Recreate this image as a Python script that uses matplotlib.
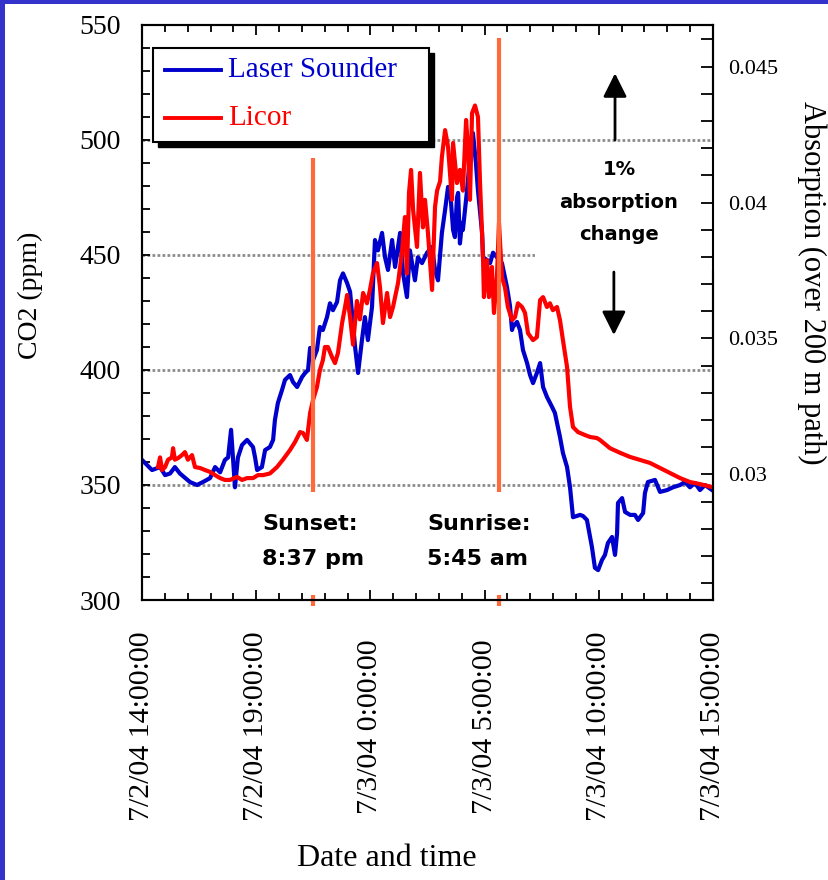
import matplotlib
matplotlib.use("Agg")
import matplotlib.pyplot as plt
from matplotlib.patches import Rectangle
from matplotlib.lines import Line2D
from matplotlib.ticker import MultipleLocator, FixedLocator

# ---- data: hours elapsed since 7/2/04 14:00 ----
laser_hours = [0.00, 0.44, 0.79, 1.01, 1.23, 1.44, 1.66, 2.10, 2.41, 2.67,
               2.98, 3.20, 3.42, 3.63, 3.77, 3.90, 3.98, 4.07, 4.20, 4.38,
               4.60, 4.86, 4.95, 5.04, 5.25, 5.39, 5.60, 5.74, 5.82, 5.95,
               6.13, 6.26, 6.48, 6.61, 6.79, 7.01, 7.14, 7.27, 7.36, 7.49,
               7.66, 7.79, 7.92, 8.10, 8.23, 8.36, 8.54, 8.67, 8.80, 8.98,
               9.11, 9.33, 9.46, 9.63, 9.76, 9.89, 10.07, 10.20, 10.33, 10.51,
               10.64, 10.77, 10.95, 11.08, 11.30, 11.43, 11.60, 11.73, 11.95, 12.08,
               12.26, 12.48, 12.70, 12.83, 12.96, 13.13, 13.27, 13.40, 13.49, 13.62,
               13.70, 13.79, 13.84, 13.92, 14.01, 14.05, 14.23, 14.36, 14.49, 14.62,
               14.71, 14.89, 14.93, 15.11, 15.24, 15.37, 15.54, 15.76, 15.98, 16.11,
               16.20, 16.24, 16.42, 16.55, 16.68, 16.86, 16.99, 17.12, 17.29, 17.43,
               17.56, 17.73, 17.95, 18.08, 18.30, 18.43, 18.61, 18.74, 18.87, 19.18,
               19.31, 19.48, 19.70, 19.83, 19.97, 20.14, 20.27, 20.40, 20.58, 20.71,
               20.80, 20.84, 21.02, 21.15, 21.37, 21.58, 21.72, 21.94, 22.02, 22.15,
               22.46, 22.68, 22.99, 23.25, 23.56, 23.77, 23.99, 24.21, 24.43, 24.65,
               24.96]
laser_co2 = [360.9, 356.5, 357.8, 354.3, 355.0, 357.8, 355.0, 351.3, 350.0, 351.3,
             353.0, 357.8, 355.5, 360.9, 362.0, 374.0, 362.0, 349.0, 362.0, 367.4,
             369.6, 366.5, 362.0, 356.5, 357.8, 365.2, 366.5, 369.6, 378.3, 385.7,
             391.3, 395.7, 397.8, 394.8, 392.6, 397.0, 398.7, 400.0, 409.6, 404.3,
             408.7, 418.7, 417.4, 423.0, 429.0, 426.0, 429.6, 439.0, 442.0, 437.8,
             434.0, 410.0, 398.7, 413.0, 423.0, 413.0, 427.4, 456.5, 452.0, 459.6,
             449.0, 443.5, 456.5, 444.8, 459.6, 442.0, 431.7, 452.0, 439.0, 449.0,
             446.5, 451.0, 453.5, 443.5, 439.0, 459.6, 469.6, 479.6, 478.0, 460.9,
             457.8, 475.0, 477.0, 455.0, 464.0, 460.9, 478.0, 492.6, 503.0, 490.0,
             478.0, 459.6, 449.0, 447.8, 446.5, 451.0, 449.0, 446.5, 436.0, 428.0,
             417.4, 418.7, 420.9, 417.4, 408.7, 403.0, 397.8, 394.3, 398.7, 403.0,
             392.6, 388.3, 384.0, 381.3, 370.9, 363.9, 357.8, 349.0, 336.0, 337.0,
             336.5, 334.8, 323.0, 314.0, 313.0, 317.4, 319.6, 324.8, 327.4, 319.6,
             329.0, 342.2, 344.3, 338.3, 337.0, 337.0, 334.8, 337.8, 346.5, 351.3,
             352.2, 347.0, 347.8, 349.0, 350.0, 351.3, 349.0, 350.9, 347.8, 350.0,
             347.8]

licor_hours = [0.70, 0.79, 0.88, 1.01, 1.14, 1.31, 1.36, 1.44, 1.58, 1.75,
               1.88, 2.01, 2.19, 2.32, 2.54, 2.76, 2.98, 3.20, 3.42, 3.63,
               3.85, 4.16, 4.38, 4.60, 4.86, 5.08, 5.30, 5.60, 5.91, 6.17,
               6.48, 6.70, 6.92, 7.05, 7.22, 7.36, 7.49, 7.66, 7.79, 7.92,
               8.01, 8.14, 8.32, 8.45, 8.58, 8.76, 8.89, 8.98, 9.11, 9.24,
               9.41, 9.54, 9.68, 9.85, 9.98, 10.11, 10.29, 10.42, 10.55, 10.73,
               10.86, 10.99, 11.21, 11.38, 11.51, 11.60, 11.69, 11.78, 11.87, 12.04,
               12.17, 12.30, 12.39, 12.52, 12.70, 12.83, 12.92, 13.05, 13.13, 13.27,
               13.40, 13.57, 13.62, 13.79, 13.92, 14.05, 14.19, 14.27, 14.36, 14.45,
               14.58, 14.71, 14.80, 14.93, 14.97, 15.11, 15.19, 15.32, 15.41, 15.54,
               15.63, 15.76, 15.89, 16.02, 16.20, 16.33, 16.46, 16.64, 16.77, 16.90,
               17.12, 17.29, 17.43, 17.56, 17.73, 17.86, 17.99, 18.17, 18.30, 18.43,
               18.61, 18.74, 18.87, 19.09, 19.40, 19.61, 19.92, 20.05, 20.49, 20.93,
               21.37, 21.80, 22.24, 22.68, 23.12, 23.56, 23.99, 24.43, 24.96]
licor_co2 = [357.8, 362.0, 356.5, 357.8, 361.0, 362.0, 366.0, 361.0, 361.7, 363.0,
             364.3, 361.0, 363.0, 357.8, 357.4, 356.5, 355.7, 354.3, 353.0, 352.2,
             352.2, 353.5, 352.2, 353.0, 353.0, 354.3, 354.3, 355.0, 357.8, 361.0,
             365.2, 368.7, 373.0, 372.6, 369.6, 381.3, 387.0, 392.6, 400.0, 404.3,
             410.0, 410.0, 405.6, 403.0, 407.4, 420.4, 427.4, 432.6, 423.0, 411.0,
             430.0, 422.0, 433.5, 429.0, 434.8, 442.0, 446.5, 436.0, 420.4, 433.5,
             423.0, 427.4, 437.8, 451.0, 466.5, 442.0, 477.0, 487.0, 469.6, 453.5,
             485.7, 462.0, 474.0, 459.6, 434.8, 471.0, 478.0, 482.0, 492.6, 504.3,
             497.0, 474.0, 498.7, 481.3, 487.0, 478.0, 508.7, 497.0, 474.0, 511.7,
             515.0, 510.0, 481.3, 449.0, 431.7, 447.8, 431.7, 444.8, 424.8, 440.4,
             464.0, 440.4, 436.0, 427.4, 421.7, 423.0, 429.0, 427.4, 424.8, 416.0,
             413.0, 414.3, 430.4, 431.7, 427.4, 429.0, 426.0, 427.4, 421.7, 413.0,
             401.3, 384.0, 375.2, 373.0, 371.7, 370.9, 370.4, 369.6, 366.0, 364.0,
             362.2, 360.9, 359.6, 357.4, 355.2, 353.0, 351.3, 350.4, 349.1]

series_labels = ["Laser Sounder", "Licor"]

tick_hours = [0, 5, 10, 15, 20, 25]
tick_labels = ["7/2/04 14:00:00", "7/2/04 19:00:00", "7/3/04 0:00:00",
               "7/3/04 5:00:00", "7/3/04 10:00:00", "7/3/04 15:00:00"]

co2_ticks = [300, 350, 400, 450, 500, 550]
grid_levels = [350, 400, 450, 500]
absorption_ticks = [0.03, 0.035, 0.04, 0.045]
absorption_labels = ["0.03", "0.035", "0.04", "0.045"]
absorption_per_ppm = 0.03 / 354.6   # 200 m path

sunset_hour = 7.49
sunrise_hour = 15.63

# ---- styling ----
SERIF = "Liberation Serif"
BOLD = "DejaVu Sans"
BLUE = "#0000cc"
RED = "#ff0000"
ORANGE = "#ff6a3d"
FRAME = "#3333cc"

W, H = 829, 880
fig = plt.figure(figsize=(W / 100, H / 100), dpi=100)
fig.patch.set_facecolor("white")

# slide frame
fig.add_artist(Rectangle((0, 1 - 4 / H), 1, 4 / H, transform=fig.transFigure,
                         facecolor=FRAME, edgecolor="none"))
fig.add_artist(Rectangle((0, 0), 5 / W, 1, transform=fig.transFigure,
                         facecolor=FRAME, edgecolor="none"))

x0, x1, y0, y1 = 142, 713, 25, 600
ax = fig.add_axes([x0 / W, 1 - y1 / H, (x1 - x0) / W, (y1 - y0) / H])
ax.set_xlim(0, 25)
ax.set_ylim(300, 550)

for lvl in grid_levels:
    ax.axhline(lvl, color="#8c8c8c", lw=2.0, ls=(0, (1, 0.8)), zorder=1)

ax.plot(laser_hours, laser_co2, color=BLUE, lw=3.0, zorder=3,
        solid_joinstyle="round")
ax.plot(licor_hours, licor_co2, color=RED, lw=3.0, zorder=4,
        solid_joinstyle="round")

# sunset / sunrise markers (interrupted behind their labels)
ax.vlines([sunset_hour], 347, 492, color=ORANGE, lw=3, zorder=5)
ax.vlines([sunrise_hour], 347, 544.3, color=ORANGE, lw=3, zorder=5)
ax.vlines([sunset_hour, sunrise_hour], 297.4, 302.2, color=ORANGE, lw=3,
          zorder=5, clip_on=False)

for hx, l1, l2 in [(5.25, "Sunset:", "8:37 pm"), (12.48, "Sunrise:", "5:45 am")]:
    ax.text(hx, 330.5, l1, fontsize=16, fontweight="bold", family=BOLD,
            ha="left", va="baseline", zorder=9)
    ax.text(hx, 315.3, l2, fontsize=16, fontweight="bold", family=BOLD,
            ha="left", va="baseline", zorder=9)

# 1% absorption change annotation
ax.add_patch(Rectangle((17.2, 443.5), 8.0, 55.6, facecolor="white",
                       edgecolor="none", zorder=6, clip_on=False))
for txt, yb in [("1%", 484.8), ("absorption", 470.4), ("change", 456.5)]:
    ax.text(20.88, yb, txt, fontsize=14, fontweight="bold", family=BOLD,
            ha="center", va="baseline", zorder=9)
arrow_kw = dict(arrowstyle="-|>,head_length=0.9,head_width=0.45",
                color="black", lw=2, mutation_scale=16, shrinkA=0, shrinkB=0)
ax.annotate("", xy=(20.71, 529.0), xytext=(20.71, 500.0),
            arrowprops=arrow_kw, zorder=9)
ax.annotate("", xy=(20.66, 415.2), xytext=(20.66, 442.6),
            arrowprops=arrow_kw, zorder=9)

# legend box with drop shadow
lx0, lx1, ly0, ly1 = (153 - x0) / 571, (429 - x0) / 571, (600 - 142) / 575, (600 - 48) / 575
ax.add_patch(Rectangle((lx0 + 5 / 571, ly0 - 5 / 575), lx1 - lx0, ly1 - ly0,
                       transform=ax.transAxes, facecolor="black",
                       edgecolor="black", zorder=10))
ax.add_patch(Rectangle((lx0, ly0), lx1 - lx0, ly1 - ly0, transform=ax.transAxes,
                       facecolor="white", edgecolor="black", lw=1.5, zorder=11))
for color, label, ypx in [(BLUE, series_labels[0], 70), (RED, series_labels[1], 118)]:
    ya = (600 - ypx) / 575
    ax.add_line(Line2D([(165 - x0) / 571, (221 - x0) / 571], [ya, ya],
                       transform=ax.transAxes, color=color, lw=2.8, zorder=12))
    ax.text((228 - x0) / 571, ya, label, transform=ax.transAxes, color=color,
            fontsize=21, family=SERIF, ha="left", va="center", zorder=12)

# axes styling
for sp in ax.spines.values():
    sp.set_linewidth(1.5)
ax.yaxis.set_major_locator(FixedLocator(co2_ticks))
ax.yaxis.set_minor_locator(MultipleLocator(10))
ax.xaxis.set_major_locator(FixedLocator(tick_hours))
ax.xaxis.set_minor_locator(MultipleLocator(1))
ax.set_xticklabels(tick_labels, rotation=90, va="center", ha="center",
                   family=SERIF, fontsize=21.5)
ax.tick_params(axis="x", which="both", direction="in", top=True, width=1.3)
ax.tick_params(axis="x", which="major", length=7, pad=91)
ax.tick_params(axis="x", which="minor", length=5)
ax.tick_params(axis="y", which="both", direction="in", width=1.3, pad=15,
               labelsize=20)
ax.tick_params(axis="y", which="major", length=6)
ax.tick_params(axis="y", which="minor", length=6)
for lab in ax.get_yticklabels():
    lab.set_family(SERIF)

ax.set_ylabel("CO2 (ppm)", family=SERIF, fontsize=20, va="center")
ax.yaxis.set_label_coords((30 - x0) / 571, (600 - 295) / 575)
ax.set_xlabel("Date and time", family=SERIF, fontsize=23, va="center")
ax.xaxis.set_label_coords((387 - x0) / 571, (600 - 858) / 575)

ax2 = ax.twinx()
ax2.set_ylim(300 * absorption_per_ppm, 550 * absorption_per_ppm)
ax2.yaxis.set_major_locator(FixedLocator(absorption_ticks))
ax2.set_yticklabels(absorption_labels, family=SERIF, fontsize=16)
ax2.yaxis.set_minor_locator(MultipleLocator(0.001))
ax2.tick_params(axis="y", which="both", direction="in", width=1.3, length=9,
                pad=11)
for sp in ax2.spines.values():
    sp.set_linewidth(1.5)
ax2.set_ylabel("Absorption (over 200 m path)", family=SERIF, fontsize=22,
               rotation=270, va="center")
ax2.yaxis.set_label_coords((812 - x0) / 571, (600 - 283) / 575)

fig.savefig("out.png", dpi=100)
